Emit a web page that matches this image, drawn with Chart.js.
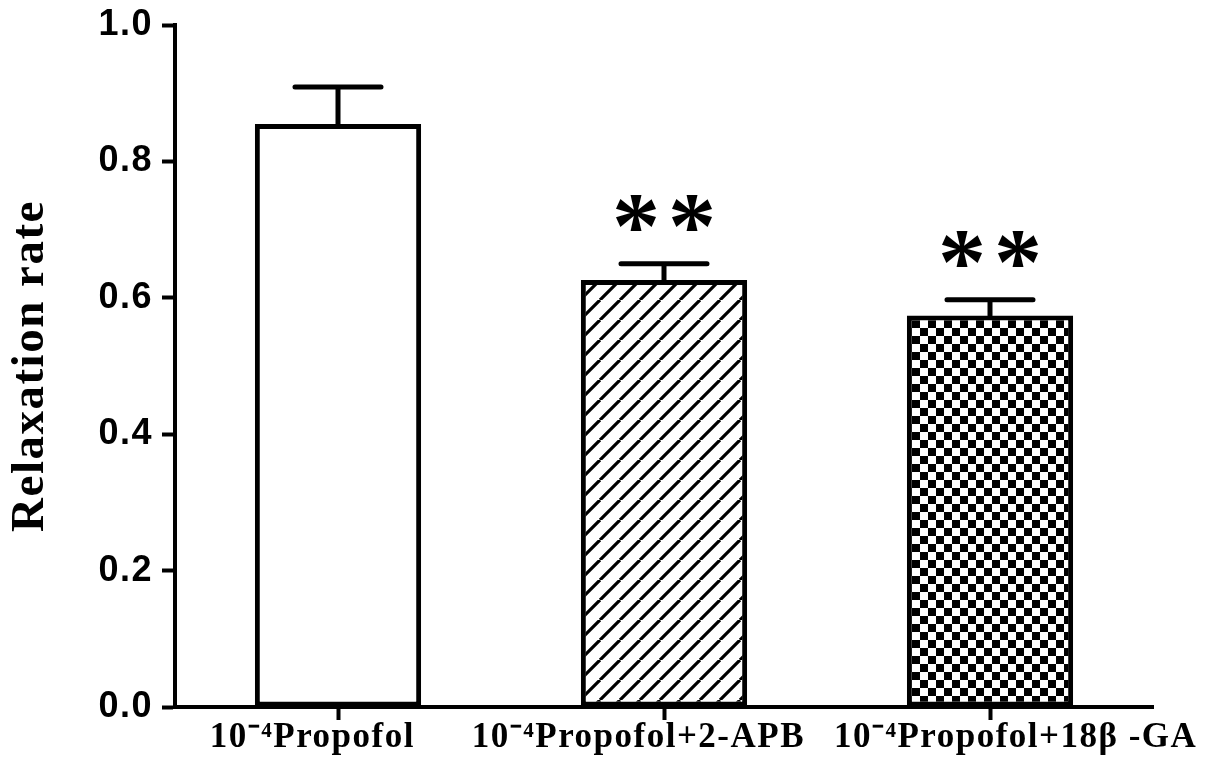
<!DOCTYPE html>
<html>
<head>
<meta charset="utf-8">
<script src="https://cdn.jsdelivr.net/npm/chart.js@4.4.0/dist/chart.umd.min.js"></script>
<style>
  body { margin: 0; background: #fff; }
</style>
</head>
<body>
<canvas id="relaxChart" width="1205" height="770"></canvas>
<script>
// data
const categories = ['10\u207B\u2074Propofol', '10\u207B\u2074Propofol+2-APB', '10\u207B\u2074Propofol+18\u03B2 -GA'];
const relaxation = [0.855, 0.626, 0.574];
const sem = [0.054, 0.024, 0.023];
const stars = ['', '**', '**'];
const yTicks = { min: 0, max: 1, step: 0.2 };

// the original labels sit a little off their ticks (first two left, last right)
const labelNudge = [-5, -5, 5];

function hatchPattern() {
    const s = 20;
    const c = document.createElement('canvas');
    c.width = s; c.height = s;
    const g = c.getContext('2d');
    g.fillStyle = '#fff';
    g.fillRect(0, 0, s, s);
    g.strokeStyle = '#000';
    g.lineWidth = 3.2;
    g.beginPath();
    for (let k = -1; k <= 1; k++) {
        g.moveTo(k * s, s);
        g.lineTo(k * s + s, 0);
    }
    g.stroke();
    return g.createPattern(c, 'repeat');
}

function checkerPattern() {
    const s = 8;
    const c = document.createElement('canvas');
    c.width = s * 2; c.height = s * 2;
    const g = c.getContext('2d');
    g.fillStyle = '#fff';
    g.fillRect(0, 0, s * 2, s * 2);
    g.fillStyle = '#000';
    g.fillRect(0, 0, s, s);
    g.fillRect(s, s, s, s);
    return g.createPattern(c, 'repeat');
}

// slightly wider serif lettering, as in the original figure
const spacing = {
    id: 'spacing',
    beforeDraw(chart) { chart.ctx.letterSpacing = '1.5px'; },
    afterDraw(chart) { chart.ctx.letterSpacing = '0px'; }
};

const errorBars = {
    id: 'errorBars',
    afterDatasetsDraw(chart) {
        const { ctx, scales: { x, y } } = chart;
        ctx.save();
        ctx.letterSpacing = '0px';
        ctx.strokeStyle = '#000';
        ctx.lineWidth = 5;
        ctx.lineCap = 'round';
        relaxation.forEach((v, i) => {
            const cx = x.getPixelForValue(i);
            const yBar = y.getPixelForValue(v);
            const yTop = y.getPixelForValue(v + sem[i]);
            ctx.beginPath();
            ctx.moveTo(cx, yBar);
            ctx.lineTo(cx, yTop);
            ctx.moveTo(cx - 43, yTop);
            ctx.lineTo(cx + 43, yTop);
            ctx.stroke();

            if (stars[i]) {
                ctx.fillStyle = '#000';
                ctx.font = 'bold 96px "Liberation Serif"';
                ctx.textAlign = 'left';
                ctx.textBaseline = 'alphabetic';
                const m = ctx.measureText('*');
                const yc = yTop - 51;
                const by = yc + (m.actualBoundingBoxAscent - m.actualBoundingBoxDescent) / 2;
                const n = stars[i].length;
                for (let k = 0; k < n; k++) {
                    const xc = cx + (k - (n - 1) / 2) * 56;
                    const bx = xc - (m.actualBoundingBoxRight - m.actualBoundingBoxLeft) / 2;
                    ctx.fillText('*', bx, by);
                }
            }
        });
        ctx.restore();
    }
};

const ctx = document.getElementById('relaxChart').getContext('2d');
new Chart(ctx, {
    type: 'bar',
    data: {
        labels: categories,
        datasets: [{
            data: relaxation,
            backgroundColor: ['#ffffff', hatchPattern(), checkerPattern()],
            borderColor: '#000',
            borderWidth: 5,
            borderSkipped: false,
            categoryPercentage: 1,
            barPercentage: 0.51
        }]
    },
    options: {
        responsive: false,
        animation: false,
        layout: { padding: { top: 25, right: 52, left: 0, bottom: 0 } },
        plugins: {
            legend: { display: false },
            tooltip: { enabled: false }
        },
        scales: {
            x: {
                afterFit: (s) => { s.height = 63; },
                border: { display: true, color: '#000', width: 4 },
                grid: {
                    offset: false,
                    drawOnChartArea: false,
                    drawTicks: true,
                    tickLength: 13,
                    tickWidth: 4,
                    color: '#000'
                },
                ticks: {
                    color: '#000',
                    padding: 0,
                    autoSkip: false,
                    maxRotation: 0,
                    minRotation: 0,
                    callback: function (v, i) {
                        const pad = ' '.repeat(Math.abs(labelNudge[i]));
                        const t = this.getLabelForValue(v);
                        return labelNudge[i] < 0 ? t + pad : pad + t;
                    },
                    font: { family: '"Liberation Serif"', size: 35, weight: 'bold', lineHeight: 1 }
                }
            },
            y: {
                min: yTicks.min,
                max: yTicks.max,
                afterFit: (s) => { s.width = 175; s.paddingTop = 0; s.paddingBottom = 0; },
                border: { display: true, color: '#000', width: 4 },
                grid: {
                    drawOnChartArea: false,
                    drawTicks: true,
                    tickLength: 13,
                    tickWidth: 4,
                    color: '#000'
                },
                ticks: {
                    stepSize: yTicks.step,
                    padding: 9,
                    color: '#000',
                    callback: (v) => v.toFixed(1),
                    font: { family: '"Liberation Sans"', size: 36, weight: 'bold' }
                },
                title: {
                    display: true,
                    text: 'Relaxation rate',
                    color: '#000',
                    padding: { top: 3, bottom: 0 },
                    font: { family: '"Liberation Serif"', size: 47, weight: 'bold', lineHeight: 1.2 }
                }
            }
        }
    },
    plugins: [spacing, errorBars]
});
</script>
</body>
</html>
